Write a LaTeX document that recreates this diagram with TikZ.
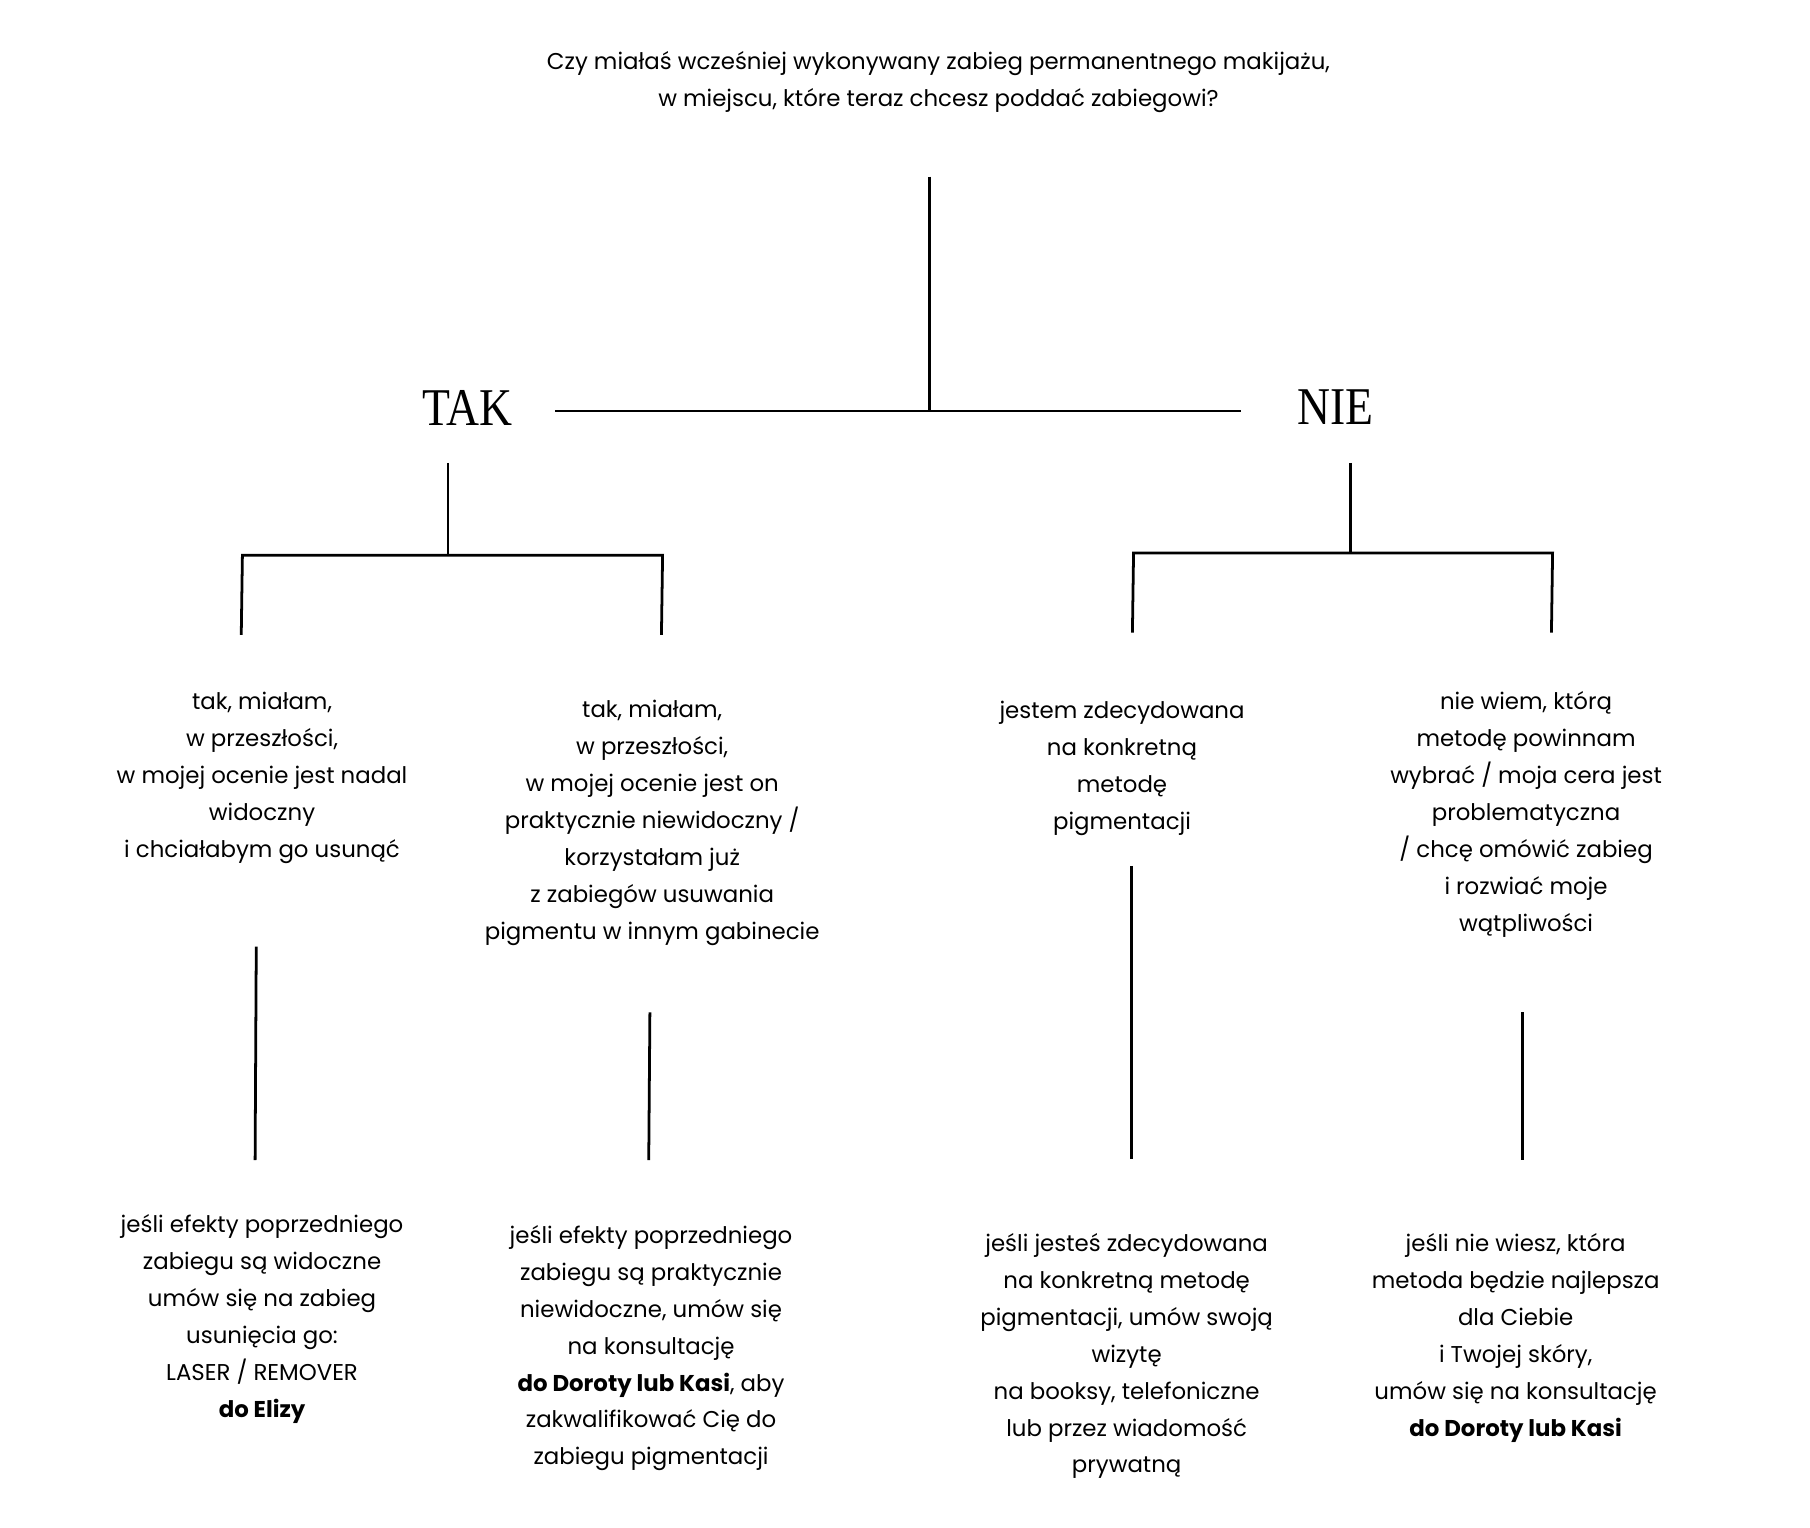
\documentclass[tikz,border=0pt]{standalone}
\usepackage{fontspec}
\setmainfont{Poppins}
\newfontfamily\naglowek{Liberation Serif}

\begin{document}
\begin{tikzpicture}[x=0.5pt,y=0.5pt,yscale=-1,xscale=1,
	linia/.style={line width=1.2pt,black},
	opis/.style={align=center,inner sep=0pt,anchor=north,font=\fontsize{9.9}{16}\selectfont},
	galaz/.style={inner sep=0pt,font=\fontsize{23}{23}\selectfont\naglowek}]
			\useasboundingbox (0,0) rectangle (1568,1323);
			
			% pytanie i odpowiedzi
			\node (pytanie) at (813,44) [opis] {Czy miałaś wcześniej wykonywany zabieg permanentnego makijażu,\\ w miejscu, które teraz chcesz poddać zabiegowi?};
			\node (tak) at (405,353) [galaz] {\scalebox{0.86}[1]{TAK}};
			\node (nie) at (1157,353) [galaz] {\scalebox{0.86}[1]{NIE}};
			
			% punkty linii
			\coordinate (pien) at (805,153);
			\coordinate (srodek) at (805,356);
			\coordinate (lewyKoniec) at (481,356);
			\coordinate (prawyKoniec) at (1075,356);
			\coordinate (takGora) at (388,401);
			\coordinate (takDol) at (388,481);
			\coordinate (takL) at (210,481);
			\coordinate (takP) at (574,481);
			\coordinate (takLd) at (209,550);
			\coordinate (takPd) at (573,550);
			\coordinate (nieGora) at (1170,401);
			\coordinate (nieDol) at (1170,479);
			\coordinate (nieL) at (982,479);
			\coordinate (nieP) at (1345,479);
			\coordinate (nieLd) at (981,548);
			\coordinate (niePd) at (1344,548);
			
			\draw[linia] (pien) -- (srodek);
			\draw[linia] (lewyKoniec) -- (prawyKoniec);
			\draw[linia] (takGora) -- (takDol);
			\draw[linia] (takLd) -- (takL) -- (takP) -- (takPd);
			\draw[linia] (nieGora) -- (nieDol);
			\draw[linia] (nieLd) -- (nieL) -- (nieP) -- (niePd);
			
			% druga warstwa
			\node (takA) at (227,599) [opis] {tak, miałam,\\ w przeszłości,\\ w mojej ocenie jest nadal\\ widoczny\\ i chciałabym go usunąć};
			\node (takB) at (565,606) [opis] {tak, miałam,\\ w przeszłości,\\ w mojej ocenie jest on\\ praktycznie niewidoczny /\\ korzystałam już\\ z zabiegów usuwania\\ pigmentu w innym gabinecie};
			\node (nieA) at (972,607) [opis] {jestem zdecydowana\\ na konkretną\\ metodę\\ pigmentacji};
			\node (nieB) at (1322,599) [opis] {nie wiem, którą\\ metodę powinnam\\ wybrać / moja cera jest\\ problematyczna\\ / chcę omówić zabieg\\ i rozwiać moje\\ wątpliwości};
			
			\coordinate (takAg) at (222,820);
			\coordinate (takAd) at (221,1005);
			\coordinate (takBg) at (563,877);
			\coordinate (takBd) at (562,1005);
			\coordinate (nieAg) at (980,750);
			\coordinate (nieAd) at (980,1004);
			\coordinate (nieBg) at (1319,877);
			\coordinate (nieBd) at (1319,1005);
			\draw[linia] (takAg) -- (takAd);
			\draw[linia] (takBg) -- (takBd);
			\draw[linia] (nieAg) -- (nieAd);
			\draw[linia] (nieBg) -- (nieBd);
			
			% wyniki
			\node (wynikA) at (227,1052) [opis] {jeśli efekty poprzedniego\\ zabiegu są widoczne\\ umów się na zabieg\\ usunięcia go:\\ LASER / REMOVER\\ \textbf{do Elizy}};
			\node (wynikB) at (564,1061) [opis] {jeśli efekty poprzedniego\\ zabiegu są praktycznie\\ niewidoczne, umów się\\ na konsultację\\ \textbf{do Doroty lub Kasi}, aby\\ zakwalifikować Cię do\\ zabiegu pigmentacji};
			\node (wynikC) at (976,1068) [opis] {jeśli jesteś zdecydowana\\ na konkretną metodę\\ pigmentacji, umów swoją\\ wizytę\\ na booksy, telefoniczne\\ lub przez wiadomość\\ prywatną};
			\node (wynikD) at (1313,1068) [opis] {jeśli nie wiesz, która\\ metoda będzie najlepsza\\ dla Ciebie\\ i Twojej skóry,\\ umów się na konsultację\\ \textbf{do Doroty lub Kasi}};
\end{tikzpicture}
\end{document}
